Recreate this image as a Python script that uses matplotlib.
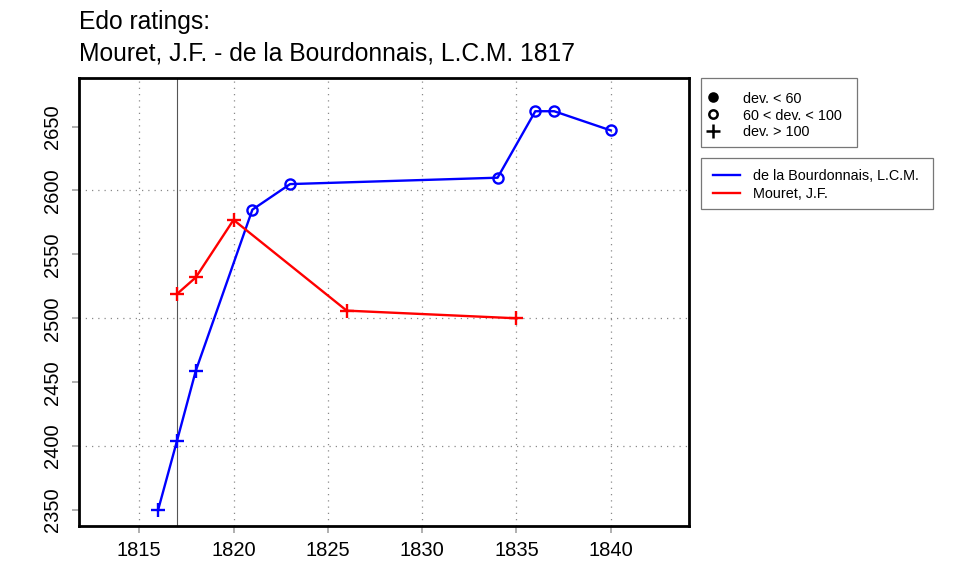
import matplotlib
matplotlib.use("Agg")
import matplotlib.pyplot as plt
from matplotlib.lines import Line2D
from matplotlib.patches import Rectangle

plt.rcParams['font.family'] = ['Liberation Sans', 'DejaVu Sans']

# Data
blue_name = "de la Bourdonnais, L.C.M."
red_name = "Mouret, J.F."
blue_years = [1816, 1817, 1818, 1821, 1823, 1834, 1836, 1837, 1840]
blue_ratings = [2350, 2404, 2459, 2585, 2605, 2610, 2662, 2662, 2647]
blue_markers = ['+', '+', '+', 'o', 'o', 'o', 'o', 'o', 'o']
red_years = [1817, 1818, 1820, 1826, 1835]
red_ratings = [2519, 2532, 2577, 2506, 2500]
red_markers = ['+', '+', '+', '+', '+']
game_year = 1817
x_ticks = [1815, 1820, 1825, 1830, 1835, 1840]
y_ticks = [2350, 2400, 2450, 2500, 2550, 2600, 2650]
y_grid = [2400, 2500, 2600]
dev_labels = ["dev. < 60", "60 < dev. < 100", "dev. > 100"]
title_lines = ["Edo ratings:", "Mouret, J.F. - de la Bourdonnais, L.C.M. 1817"]

W, H = 960, 576
def fx(px):
    return px / W
def fy(py):
    return 1 - py / H

fig = plt.figure(figsize=(9.6, 5.76), dpi=100)
ax = fig.add_axes([fx(78.5), fy(526), (689 - 78.5) / W, (526 - 78) / H])

ax.set_xlim(1811.78, 1844.15)
ax.set_ylim(2337.5, 2688)

for xv in x_ticks:
    ax.axvline(xv, color='#8a8a8a', lw=0.9, ls=(0, (1, 4)), zorder=0)
for yv in y_grid:
    ax.axhline(yv, color='#8a8a8a', lw=0.9, ls=(0, (1, 4)), zorder=0)
ax.axvline(game_year, color='#555555', lw=0.8, zorder=1)

def draw(years, ratings, markers, color):
    ax.plot(years, ratings, color=color, lw=1.7, zorder=2)
    for x, y, m in zip(years, ratings, markers):
        if m == 'o':
            ax.plot([x], [y], marker='o', ms=7.3, mfc='none', mec=color, mew=1.7, zorder=3)
        else:
            ax.plot([x], [y], marker='+', ms=9.8, mec=color, mew=1.7, zorder=3)

draw(blue_years, blue_ratings, blue_markers, 'blue')
draw(red_years, red_ratings, red_markers, 'red')

ax.set_xticks(x_ticks)
ax.set_yticks(y_ticks)
ax.set_xticklabels([str(v) for v in x_ticks])
ax.set_yticklabels([str(v) for v in y_ticks], rotation=90, va='center')
ax.tick_params(axis='both', direction='out', length=5, width=1.1, color='#9a9a9a',
               labelsize=14.5, labelcolor='black')
ax.tick_params(axis='x', pad=5.5)
ax.tick_params(axis='y', pad=7)
for s in ax.spines.values():
    s.set_linewidth(2)

fig.text(fx(79), fy(29.3), title_lines[0], fontsize=17.7, va='baseline', ha='left')
fig.text(fx(79), fy(60), title_lines[1], fontsize=17.7, va='baseline', ha='left')

# Legend boxes drawn in figure pixel coordinates
box_kw = dict(transform=fig.transFigure, fill=True, facecolor='white',
              edgecolor='#777777', lw=0.9, zorder=5)
fig.patches.append(Rectangle((fx(700.7), fy(147.3)), (856.7 - 700.7) / W, (147.3 - 78.3) / H, **box_kw))
fig.patches.append(Rectangle((fx(700.7), fy(209)), (933.3 - 700.7) / W, (209 - 157.7) / H, **box_kw))

rows1 = [97.3, 114, 131]
sym_styles = [dict(marker='o', ms=6.4, mfc='black', mec='black', mew=1.2),
              dict(marker='o', ms=6.0, mfc='none', mec='black', mew=1.8),
              dict(marker='+', ms=9.5, mec='black', mew=1.8)]
for r, st, lab in zip(rows1, sym_styles, dev_labels):
    fig.add_artist(Line2D([fx(713.3)], [fy(r)], ls='none', transform=fig.transFigure, zorder=6, **st))
    fig.text(fx(742.7), fy(r), lab, fontsize=10.35, va='center_baseline', ha='left', zorder=6)

rows2 = [175, 192.7]
for r, col, lab in zip(rows2, ['blue', 'red'], [blue_name, red_name]):
    fig.add_artist(Line2D([fx(712.7), fx(740)], [fy(r), fy(r)], color=col, lw=1.7,
                          transform=fig.transFigure, zorder=6))
    fig.text(fx(752.7), fy(r), lab, fontsize=10.35, va='center_baseline', ha='left', zorder=6)

fig.savefig("out.png", dpi=100)
